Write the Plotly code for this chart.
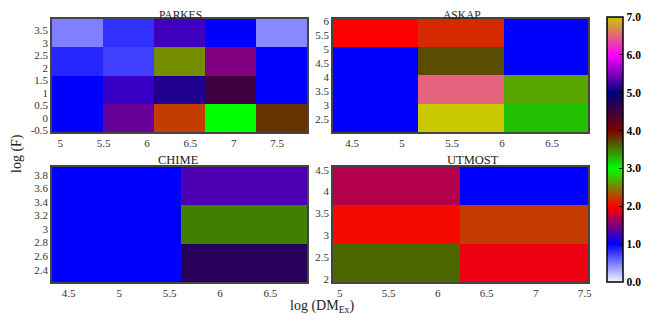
import plotly.graph_objects as go

# ---------------- data ----------------
parkes_x_edges = [4.904, 5.492, 6.08, 6.67, 7.26, 7.846]
parkes_y_edges = [-0.566, 0.566, 1.70, 2.83, 3.96]
parkes_z = [
    [1.0, 1.4, 2.24, 3.0, 3.8],
    [1.0, 1.22, 5.12, 4.5, 1.0],
    [0.84, 0.74, 2.55, 1.5, 1.0],
    [0.48, 0.8, 1.25, 1.0, 0.44],
]

askap_x_edges = [4.31, 5.158, 6.018, 6.86]
askap_y_edges = [2.047, 3.035, 4.06, 5.07, 6.06]
askap_z = [
    [1.0, 7.0, 3.25],
    [1.0, 6.5, 2.65],
    [1.0, 3.7, 1.0],
    [2.0, 2.16, 1.0],
]

chime_x_edges = [4.334, 5.616, 6.864]
chime_y_edges = [2.218, 2.773, 3.348, 3.913]
chime_z = [
    [1.0, 4.7],
    [1.0, 3.5],
    [1.0, 1.3],
]

utmost_x_edges = [4.932, 6.228, 7.534]
utmost_y_edges = [1.924, 2.787, 3.682, 4.561]
utmost_z = [
    [3.6, 1.93],
    [2.04, 2.23],
    [1.7, 1.0],
]

parkes_xticks = [5, 5.5, 6, 6.5, 7, 7.5]
parkes_yticks = [-0.5, 0, 0.5, 1, 1.5, 2, 2.5, 3, 3.5]
askap_xticks = [4.5, 5, 5.5, 6, 6.5]
askap_yticks = [2.5, 3, 3.5, 4, 4.5, 5, 5.5, 6]
chime_xticks = [4.5, 5, 5.5, 6, 6.5]
chime_yticks = [2.4, 2.6, 2.8, 3, 3.2, 3.4, 3.6, 3.8]
utmost_xticks = [5, 5.5, 6, 6.5, 7, 7.5]
utmost_yticks = [2, 2.5, 3, 3.5, 4, 4.5]

cbar_ticks = [0, 1, 2, 3, 4, 5, 6, 7]
cbar_labels = ["0.0", "1.0", "2.0", "3.0", "4.0", "5.0", "6.0", "7.0"]

titles = ["PARKES", "ASKAP", "CHIME", "UTMOST"]

# ---------------- styling ----------------
# the page places the figure 8px from the top-left corner, so the figure is
# sized to the visible window and positions are given in window pixels
OFF = 8
W, H = 664 - OFF, 323 - OFF
colorscale = [
    [0 / 7, "rgb(245,245,255)"],
    [1 / 7, "rgb(0,0,255)"],
    [2 / 7, "rgb(255,0,0)"],
    [3 / 7, "rgb(0,255,0)"],
    [4 / 7, "rgb(128,0,0)"],
    [5 / 7, "rgb(0,0,128)"],
    [6 / 7, "rgb(255,0,255)"],
    [7 / 7, "rgb(200,200,0)"],
]
SERIF = "Liberation Serif, Times New Roman, serif"


def px_x(p):
    return (p - OFF) / W


def px_y(p):
    return 1 - (p - OFF) / H


panels = [
    (parkes_x_edges, parkes_y_edges, parkes_z, parkes_xticks, parkes_yticks, (52, 307), (19, 132)),
    (askap_x_edges, askap_y_edges, askap_z, askap_xticks, askap_yticks, (333, 588), (19, 132)),
    (chime_x_edges, chime_y_edges, chime_z, chime_xticks, chime_yticks, (52, 307), (167, 282)),
    (utmost_x_edges, utmost_y_edges, utmost_z, utmost_xticks, utmost_yticks, (333, 588), (167, 282)),
]

fig = go.Figure()
layout = {}
for i, (xe, ye, z, xt, yt, (x0, x1), (y0, y1)) in enumerate(panels):
    n = "" if i == 0 else str(i + 1)
    fig.add_trace(go.Heatmap(
        x=xe, y=ye, z=z,
        colorscale=colorscale, zmin=0, zmax=7,
        showscale=(i == 0),
        xaxis="x" + n, yaxis="y" + n,
        hoverinfo="skip",
        colorbar=dict(
            x=px_x(607), xanchor="left", xpad=0,
            y=px_y(282), yanchor="bottom", ypad=0,
            len=(282 - 17) / H, lenmode="fraction",
            thickness=16, thicknessmode="pixels",
            outlinewidth=1.5, outlinecolor="black",
            tickvals=cbar_ticks, ticktext=cbar_labels,
            ticks="inside", ticklen=4, tickcolor="black",
            tickfont=dict(family=SERIF, size=11.5, color="black", weight="bold"),
        ) if i == 0 else None,
    ))
    axis_common = dict(
        showgrid=False, zeroline=False, showline=True, mirror=True,
        linecolor="#444444", linewidth=1.5, ticks="", automargin=False,
        tickfont=dict(family=SERIF, size=11, color="#333333"),
    )
    layout["xaxis" + n] = dict(
        axis_common, domain=[px_x(x0), px_x(x1)], range=[xe[0], xe[-1]],
        tickvals=xt, ticktext=[f"{v:g}" for v in xt], anchor="y" + n,
    )
    layout["yaxis" + n] = dict(
        axis_common, domain=[px_y(y1), px_y(y0)], range=[ye[0], ye[-1]],
        tickvals=yt, ticktext=[f"{v:g}" for v in yt], anchor="x" + n,
    )

fig.update_layout(**layout)

title_pos = [(180, 9), (462, 9), (178, 160), (473, 160)]
annotations = []
for t, (tx, ty) in zip(titles, title_pos):
    top_row = ty < 100
    annotations.append(dict(
        text=t, x=px_x(tx), y=1.0 if top_row else px_y(ty),
        xref="paper", yref="paper",
        showarrow=False, xanchor="center",
        yanchor="top" if top_row else "middle",
        yshift=1 if top_row else 0,
        font=dict(family=SERIF, size=11.5 if top_row else 12.5, color="#222222"),
    ))
annotations.append(dict(
    text="log (F)", x=px_x(17), y=px_y(154), xref="paper", yref="paper",
    showarrow=False, textangle=-90, xanchor="center", yanchor="middle",
    font=dict(family=SERIF, size=14, color="#222222"),
))
annotations.append(dict(
    text="log (DM<sub>Ex</sub>)", x=px_x(322), y=px_y(306), xref="paper", yref="paper",
    showarrow=False, xanchor="center", yanchor="middle",
    font=dict(family=SERIF, size=14, color="#222222"),
))

fig.update_layout(
    width=W, height=H,
    margin=dict(l=0, r=0, t=0, b=0),
    paper_bgcolor="white", plot_bgcolor="white",
    annotations=annotations,
    showlegend=False,
)

fig.write_html("out.html")
